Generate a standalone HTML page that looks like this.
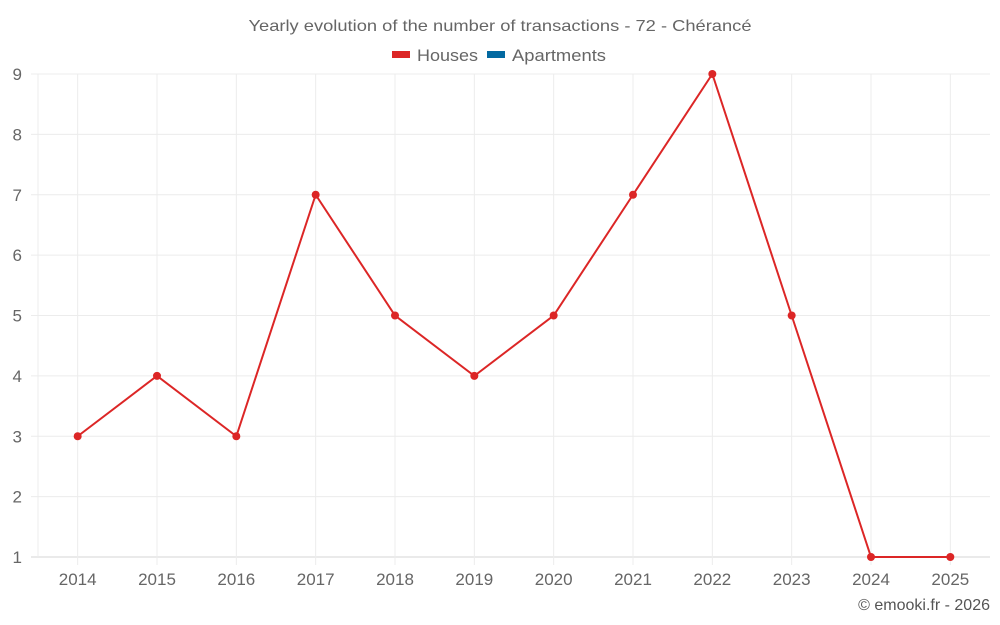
<!DOCTYPE html>
<html><head><meta charset="utf-8"><style>
body{margin:0;background:#fff;}
svg{display:block;font-family:"Liberation Sans",sans-serif;}
</style></head><body>
<svg id="c" width="1000" height="625">
<text x="500" y="31" text-anchor="middle" font-size="16" fill="#666" textLength="503" lengthAdjust="spacingAndGlyphs">Yearly evolution of the number of transactions - 72 - Chérancé</text>
<g>
<g><rect x="392" y="51" width="18" height="7" fill="#dc2626"/><text x="417" y="61" font-size="17" fill="#666" textLength="61" lengthAdjust="spacingAndGlyphs">Houses</text></g>
<g><rect x="487" y="51" width="18" height="7" fill="#0369a1"/><text x="512" y="61" font-size="17" fill="#666" textLength="94" lengthAdjust="spacingAndGlyphs">Apartments</text></g>
</g>
<g id="grid"></g>
<g id="axes"></g>
<g id="series"></g>
<text x="990" y="610" text-anchor="end" font-size="16" fill="#555">© emooki.fr - 2026</text>
</svg>
<script>
const years=["2014","2015","2016","2017","2018","2019","2020","2021","2022","2023","2024","2025"];
const houses=[3,4,3,7,5,4,5,7,9,5,1,1];
const yTicks=[1,2,3,4,5,6,7,8,9];
const L=38,R=990,T=74,B=557,yMin=1,yMax=9;
const bw=(R-L)/years.length;
const xs=i=>L+bw*(i+0.5);
const ys=v=>B-(v-yMin)/(yMax-yMin)*(B-T);
const NS="http://www.w3.org/2000/svg";
function mk(t,a,p){const e=document.createElementNS(NS,t);for(const k in a)e.setAttribute(k,a[k]);p.appendChild(e);return e;}
const g=document.getElementById('grid'),ax=document.getElementById('axes'),s=document.getElementById('series');
yTicks.forEach(v=>{
 const l=mk('line',{x1:31,x2:R,y1:ys(v),y2:ys(v),stroke:v===yMin?'#d6d6d6':'#ececec'},g);
 
 
 const t=mk('text',{x:22,y:ys(v)+6,'text-anchor':'end','font-size':17,fill:'#666'},ax);
 t.textContent=v;
 
 
});
mk('line',{x1:L,x2:L,y1:T,y2:B,stroke:'#ececec'},g);
years.forEach((y,i)=>{
 const l=mk('line',{x1:xs(i),x2:xs(i),y1:T,y2:B+8,stroke:'#ececec'},g);
 
 
 const t=mk('text',{x:xs(i),y:585,'text-anchor':'middle','font-size':17,fill:'#666'},ax);
 t.textContent=y;
 
 
});
const p=mk('polyline',{points:houses.map((v,i)=>xs(i)+','+ys(v)).join(' '),fill:'none',stroke:'#dc2626','stroke-width':2},s);


houses.forEach((v,i)=>{
 const c=mk('circle',{cx:xs(i),cy:ys(v),r:4,fill:'#dc2626'},s);
 
 
});
</script>
</body></html>
